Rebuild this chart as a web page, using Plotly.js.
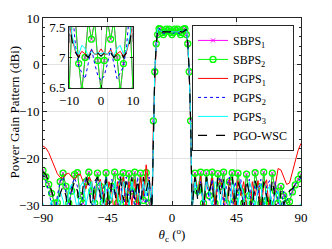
<!DOCTYPE html>
<html><head><meta charset="utf-8">
<script src="https://cdn.plot.ly/plotly-3.0.1.min.js"></script>
<style>html,body{margin:0;padding:0;background:#fff}#c{width:332px;height:249px}</style>
</head><body><div id="c"></div>
<script>
const theta = [-90,-88,-86,-84,-82,-80,-78,-76,-74,-72,-70,-68,-66,-64,-62,-60,-58,-56,-54,-52,-50,-48,-46,-44,-42,-40,-38,-36,-34,-32,-30,-28,-26,-24,-22,-20,-18,-16,-14,
-13,-12,-11,-10,-9,-8,-7,-6,-5,-4,-3,-2,-1,0,1,2,3,4,5,6,7,8,9,10,11,12,13,
14,16,18,20,22,24,26,28,30,32,34,36,38,40,42,44,46,48,50,52,54,56,58,60,62,64,66,68,70,72,74,76,78,80,82,84,86,88,90];

const sbps2 = [-22.6,-24,-25.6,-27.5,-29.6,-29.5,-25,-23.2,-26,-29.6,-27,-23.5,-23.1,-28,-29.6,-25,-23,-27,-29.6,-23.2,-26,-29.6,-23.1,-29,-26,-23,-29.6,-24,-23.1,-29.6,-23.3,-27,-23,-29.6,-23.2,-29,-23.1,-29.6,-31,
-12,-1.5,4.5,6.45,7.7,7.6,6.9,6.45,7.0,7.6,7.3,7.6,6.95,6.45,6.95,7.6,7.3,7.6,7.0,6.45,6.9,7.6,7.7,6.45,4.5,-1.5,-12,
-31,-23.2,-27,-23,-29.6,-23.1,-28,-23,-29.6,-23.3,-26,-23,-29.6,-25,-23.1,-29,-23.2,-27,-29.6,-23.4,-28,-29.6,-23.1,-26,-29.6,-23,-29,-29.6,-23.2,-27,-29.6,-26,-28,-29.6,-29.3,-27.2,-25.7,-24.5,-23.5];

const sbps1 = [-22.6,-24,-25.6,-27.5,-29.6,-29.5,-25,-23.2,-26,-29.6,-27,-23.5,-23.1,-28,-29.6,-25,-23,-27,-29.6,-23.2,-26,-29.6,-23.1,-29,-26,-23,-29.6,-24,-23.1,-29.6,-23.3,-27,-23,-29.6,-23.2,-29,-23.1,-29.6,-31,
-12,-1.5,4.5,6.45,7.7,7.6,6.9,6.45,7.0,7.6,7.3,7.6,6.95,6.45,6.95,7.6,7.3,7.6,7.0,6.45,6.9,7.6,7.7,6.45,4.5,-1.5,-12,
-31,-23.2,-27,-23,-29.6,-23.1,-28,-23,-29.6,-23.3,-26,-23,-29.6,-25,-23.1,-29,-23.2,-27,-29.6,-23.4,-28,-29.6,-23.1,-26,-29.6,-23,-29,-29.6,-23.2,-27,-29.6,-26,-28,-29.6,-29.3,-27.2,-25.7,-24.5,-23.5];

const pgps1 = [-17.4,-17.8,-18.8,-20.3,-22,-23.3,-24.1,-24.3,-23.4,-23.2,-24,-24.6,-23.6,-23.4,-25,-26.5,-24,-25,-29,-26,-24.5,-28,-31,-25,-27,-33,-25,-29,-24,-31,-25,-30,-24.5,-32,-24,-28,-21.4,-26,-31,
-12.2,-1.8,4.4,7.6,7.3,7.1,7.02,7.1,7.06,7.02,7.13,7.05,7.06,7.14,7.06,7.05,7.13,7.02,7.06,7.1,7.02,7.1,7.3,7.6,4.4,-1.8,-12.2,
-31,-24,-28,-23.8,-32,-25,-27,-24.2,-30,-25.5,-24.5,-29,-33,-24.5,-27,-31,-24.8,-28,-25,-30,-34,-25,-28,-24.8,-31,-26,-24.6,-32,-33,-26,-22.2,-22.5,-24,-25.6,-25.3,-23,-20.5,-18.3,-16.8];

const pgps2 = [-23.5,-25,-27,-30,-33,-28,-25,-24,-27,-31,-26,-24.2,-26,-33,-27,-24,-25,-31,-26,-24,-29,-27,-24,-32,-24.5,-28,-26,-24,-33,-24,-28,-25,-31,-24,-29,-25,-31,-24,-31,
-12,-1.6,4.6,7.7,7.8,7.2,6.85,6.75,6.65,6.9,7.15,6.9,6.7,6.62,6.7,6.9,7.15,6.9,6.65,6.75,6.85,7.2,7.8,7.7,4.6,-1.6,-12,
-31,-24,-28,-25,-31,-24,-29,-24.5,-33,-25,-24,-30,-26,-24,-32,-25,-28,-24.5,-31,-26,-24.5,-33,-25,-28,-24.5,-31,-26,-24.8,-32,-25,-29,-31,-27,-29,-28,-27,-25.5,-24.8,-24.2];

const pgps3 = [-29.7,-32,-31,-29,-33,-30,-27,-29,-32,-27,-25.5,-28,-31,-26,-25,-30,-27,-25,-31,-26,-25,-33,-25,-27,-29,-25,-28,-31,-25,-27,-30,-25,-28,-26,-30,-25,-28,-25,-31,
-11.8,-1.4,4.6,7.7,7.35,7.12,7.05,7.2,7.15,7.02,7.1,7.05,7.08,7.06,7.08,7.05,7.1,7.02,7.15,7.2,7.05,7.12,7.35,7.7,4.6,-1.4,-11.8,
-31,-25,-28,-25.5,-30,-25,-27,-31,-25,-26,-30,-25,-28,-32,-25,-27,-30,-25.5,-28,-33,-25,-27,-31,-26,-25.5,-32,-27,-26,-31,-28,-27,-32,-29,-31,-30,-32,-31,-30.5,-29.7];

const pgowsc = [-22.9,-23.5,-25,-27,-29,-31,-27.5,-26,-28,-33,-27,-25,-27,-31,-26,-24,-26,-32,-25,-24,-28,-30,-24.5,-31,-25,-27,-31,-24,-29,-25,-32,-24,-29,-24.5,-31,-24,-27,-24,-31,
-12,-1.5,4.5,7.6,7.25,7.08,7.0,7.1,7.05,7.0,7.08,7.03,7.07,7.02,7.07,7.03,7.08,7.0,7.05,7.1,7.0,7.08,7.25,7.6,4.5,-1.5,-12,
-31,-24,-29,-24.5,-31,-24,-27,-25,-32,-24,-28,-24.5,-33,-26,-24,-30,-25,-27,-32,-24.5,-28,-31,-24.8,-27,-33,-25,-28,-31,-24.5,-29,-33,-27,-30,-28,-27,-26.5,-25.5,-24.5,-23.8];

const names = ['SBPS<sub>1</sub>','SBPS<sub>2</sub>','PGPS<sub>1</sub>','PGPS<sub>2</sub>','PGPS<sub>3</sub>','PGO-WSC'];
const ys = [sbps1, sbps2, pgps1, pgps2, pgps3, pgowsc];
const styles = [
  {line:{color:'#ff00ff',width:1}, mode:'lines+markers', marker:{symbol:'x-thin-open',size:4,color:'#ff00ff',line:{color:'#ff00ff',width:1}}},
  {line:{color:'#00ff00',width:1}, mode:'lines+markers', marker:{symbol:'circle-open',size:6,color:'#00ff00',line:{color:'#00ff00',width:1.3}}},
  {line:{color:'#ff0000',width:1}, mode:'lines'},
  {line:{color:'#0000ff',width:1,dash:'dot'}, mode:'lines'},
  {line:{color:'#00ffff',width:1}, mode:'lines'},
  {line:{color:'#000000',width:1.2,dash:'dash'}, mode:'lines'}
];
const traces = [];
ys.forEach((y,i)=>{
  traces.push(Object.assign({x:theta, y:y, name:names[i], type:'scatter', xaxis:'x', yaxis:'y'}, styles[i]));
});
ys.forEach((y,i)=>{
  traces.push(Object.assign({x:theta, y:y, name:names[i], type:'scatter', xaxis:'x2', yaxis:'y2', showlegend:false}, styles[i]));
});
const ax = {ticks:'inside', ticklen:4, tickcolor:'#262626', mirror:'allticks', showline:true, linecolor:'#262626', linewidth:1,
  showgrid:true, gridcolor:'#e3e3e3', zeroline:false, tickfont:{size:13}};
const layout = {
  width:332, height:249, margin:{l:43,r:31,t:18,b:44},
  paper_bgcolor:'#fff', plot_bgcolor:'#fff',
  font:{family:'Liberation Serif', size:13, color:'#000'},
  xaxis: Object.assign({}, ax, {range:[-90,90], tickvals:[-90,-45,0,45,90], domain:[0,1],
     title:{text:'<i>θ</i><sub>c</sub> (<sup>o</sup>)', font:{size:13}, standoff:6}}),
  yaxis: Object.assign({}, ax, {range:[-30,10], tickvals:[-30,-20,-10,0,10], domain:[0,1],
     minor:{ticks:'inside', dtick:2, ticklen:2, tickcolor:'#262626', showgrid:false}}),
  xaxis2: Object.assign({}, ax, {anchor:'y2', domain:[0.101,0.349], range:[-10,10], tickvals:[-10,0,10], ticklen:3}),
  yaxis2: Object.assign({}, ax, {anchor:'x2', domain:[0.626,0.952], range:[6.5,7.5], tickvals:[6.5,7,7.5], ticktext:['6.5','7','7.5'], ticklen:3}),
  annotations:[{text:'Power Gain Pattern (dBi)', xref:'paper', yref:'paper', x:-0.109, y:0.5, xanchor:'center', yanchor:'middle',
     textangle:-90, showarrow:false, font:{size:13}}],
  showlegend:true,
  legend:{x:0.973, y:0.963, xanchor:'right', yanchor:'top', bgcolor:'#fff', bordercolor:'#262626', borderwidth:1,
     font:{size:12}, tracegroupgap:0, itemwidth:30}
};
Plotly.newPlot('c', traces, layout, {displayModeBar:false, staticPlot:true});
</script></body></html>
